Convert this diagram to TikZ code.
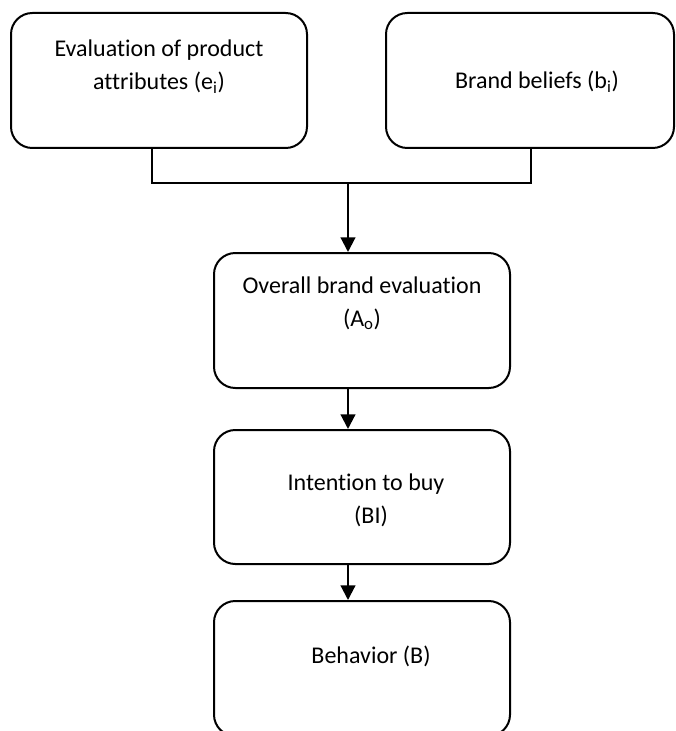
\documentclass[tikz,border=0pt]{standalone}
\usepackage{fontspec}
\setmainfont{Carlito}[Ligatures=NoCommon]
\usetikzlibrary{arrows.meta}
\begin{document}
\begin{tikzpicture}[x=0.75pt,y=-0.75pt,
  stage/.style={draw, line width=1.5pt, rounded corners=16pt, inner sep=0pt},
  caption/.style={anchor=base, inner sep=0pt, font=\fontsize{18}{22}\selectfont},
  link/.style={line width=1.6pt},
  flow/.style={line width=1.6pt, -{Triangle[length=11pt,width=11pt]}}]
  % page frame, the lowest box runs off its bottom edge
  \useasboundingbox (0,0) rectangle (675,731);
  \clip (0,0) rectangle (675,731);

  % boxes
  \node[stage, minimum width=222pt, minimum height=101.25pt] (attr) at (159,80.5) {};
  \node[stage, minimum width=216pt, minimum height=101.25pt] (beliefs) at (530,80.5) {};
  \node[stage, minimum width=222pt, minimum height=101.25pt] (overall) at (362,320.5) {};
  \node[stage, minimum width=222pt, minimum height=100.5pt] (intent) at (362,497) {};
  \node[stage, minimum width=222pt, minimum height=101.25pt] (behav) at (362,668.5) {};

  % texts
  \node[caption] (attrA) at (159,57) {Evaluation of product};
  \node[caption] (attrB) at (159,90) {attributes (e\textsubscript{i})};
  \node[caption] (beliefsA) at (537,89) {Brand beliefs (b\textsubscript{i})};
  \node[caption] (overallA) at (362,293) {Overall brand evaluation};
  \node[caption] (overallB) at (362,326) {(A\textsubscript{o})};
  \node[caption] (intentA) at (366,490) {Intention to buy};
  \node[caption] (intentB) at (371,523) {(BI)};
  \node[caption] (behavA) at (371,663) {Behavior (B)};

  % joining bracket and arrows
  \coordinate (jl) at (152,183);
  \coordinate (jr) at (531,183);
  \coordinate (jm) at (348,183);
  \draw[link] (attr.south -| jl) -- (jl) -- (jr) -- (beliefs.south -| jr);
  \draw[flow] (jm) -- (jm |- overall.north);
  \draw[flow] (overall.south -| jm) -- (intent.north -| jm);
  \draw[flow] (intent.south -| jm) -- (behav.north -| jm);
\end{tikzpicture}
\end{document}
